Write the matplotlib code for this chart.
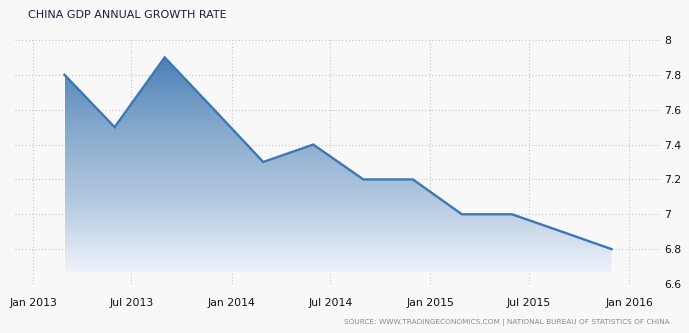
import matplotlib
matplotlib.use("Agg")
import matplotlib.pyplot as plt
import matplotlib.dates as mdates
import numpy as np
from datetime import datetime
from matplotlib.colors import LinearSegmentedColormap
from matplotlib.patches import Polygon

dates = ["2013-02-28", "2013-05-31", "2013-08-31", "2013-11-30",
         "2014-02-28", "2014-05-31", "2014-08-31", "2014-11-30",
         "2015-02-28", "2015-05-31", "2015-08-31", "2015-11-30"]
values = [7.8, 7.5, 7.9, 7.6, 7.3, 7.4, 7.2, 7.2, 7.0, 7.0, 6.9, 6.8]
xtick_dates = ["2013-01-01", "2013-07-01", "2014-01-01", "2014-07-01",
               "2015-01-01", "2015-07-01", "2016-01-01"]
xtick_labels = ["Jan 2013", "Jul 2013", "Jan 2014", "Jul 2014",
                "Jan 2015", "Jul 2015", "Jan 2016"]
yticks = [6.6, 6.8, 7.0, 7.2, 7.4, 7.6, 7.8, 8.0]
ytick_labels = ["6.6", "6.8", "7", "7.2", "7.4", "7.6", "7.8", "8"]

W, H = 689, 333
fig = plt.figure(figsize=(W / 100, H / 100), dpi=100)
bg = "#f8f8f8"
fig.patch.set_facecolor(bg)
ax = fig.add_axes([15 / W, 1 - 284 / H, (660 - 15) / W, (284 - 40) / H])
ax.set_facecolor(bg)

x = mdates.date2num([datetime.strptime(d, "%Y-%m-%d") for d in dates])
xt = mdates.date2num([datetime.strptime(d, "%Y-%m-%d") for d in xtick_dates])
y = np.array(values)

ax.set_xlim(mdates.date2num(datetime(2012, 11, 29)), mdates.date2num(datetime(2016, 2, 27)))
ax.set_ylim(6.6, 8.0)

base = 6.67
cmap = LinearSegmentedColormap.from_list("g", ["#eef2fa", "#b3c9df", "#86a9cd", "#4b81b6"])
grad = np.linspace(0, 1, 256).reshape(-1, 1)
im = ax.imshow(grad, aspect="auto", cmap=cmap, origin="lower",
               extent=[x[0], x[-1], base, y.max()], zorder=2)
verts = np.vstack([np.column_stack([x, y]), [[x[-1], base], [x[0], base]]])
clip = Polygon(verts, closed=True, transform=ax.transData, facecolor="none", edgecolor="none")
ax.add_patch(clip)
im.set_clip_path(clip)

ax.plot(x, y, color="#3b78b4", lw=1.7, zorder=3, solid_joinstyle="miter")

ax.set_xticks(xt)
ax.set_xticklabels(xtick_labels)
ax.set_yticks(yticks)
ax.set_yticklabels(ytick_labels)
ax.yaxis.tick_right()
ax.tick_params(axis="both", length=0, labelsize=7.8, colors="#111111")
ax.tick_params(axis="x", pad=10)
ax.tick_params(axis="y", pad=3)
ax.grid(True, color="#c8c8c8", linestyle=(0, (1, 2)), lw=0.8, zorder=1)
for s in ax.spines.values():
    s.set_visible(False)

fig.text(28 / W, 1 - 15 / H, "CHINA GDP ANNUAL GROWTH RATE", fontsize=8, color="#1b1b45",
         ha="left", va="center")
fig.text(670 / W, 1 - 322 / H,
         "SOURCE: WWW.TRADINGECONOMICS.COM | NATIONAL BUREAU OF STATISTICS OF CHINA",
         fontsize=5.3, color="#8a8a8a", ha="right", va="center")

fig.savefig("out.png", dpi=100, facecolor=bg)
